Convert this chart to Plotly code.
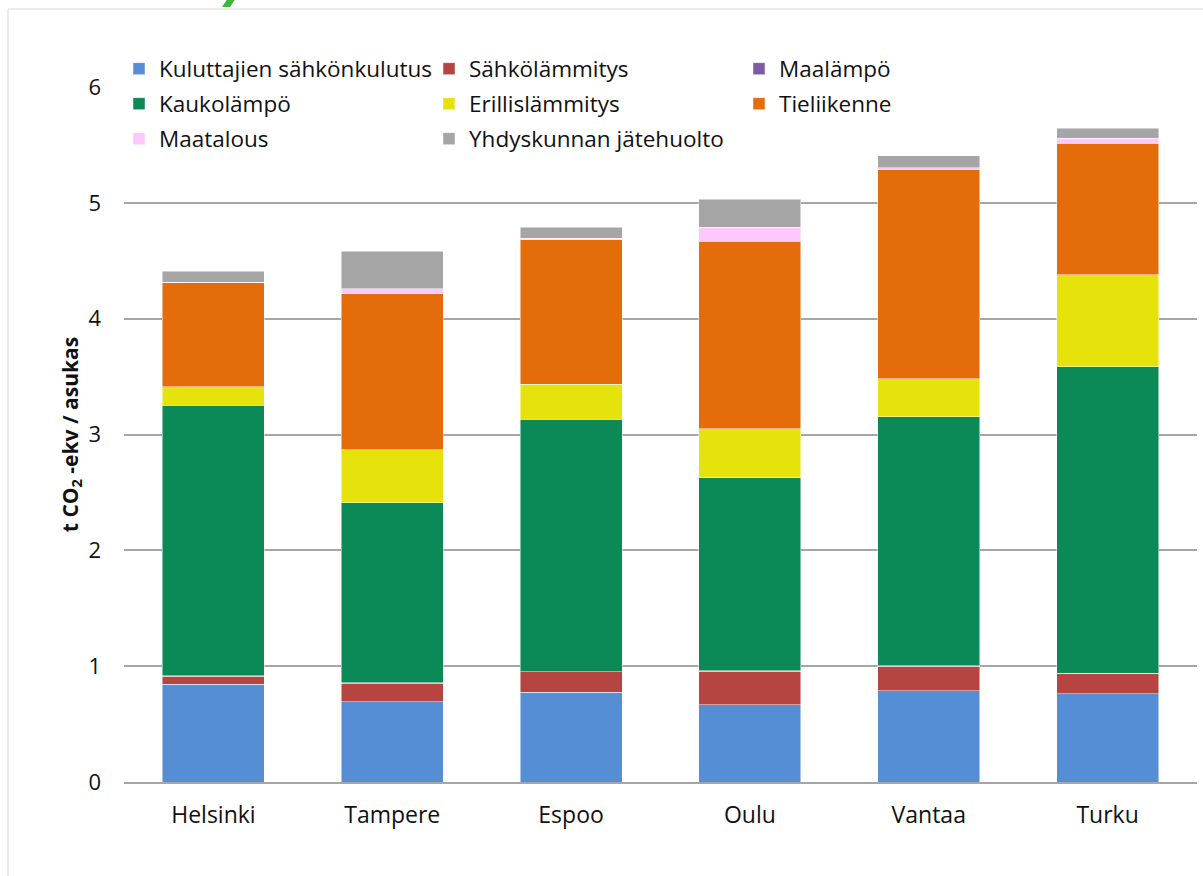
import plotly.graph_objects as go

cities = ["Helsinki", "Tampere", "Espoo", "Oulu", "Vantaa", "Turku"]

kuluttajien_sahkonkulutus = [0.846, 0.693, 0.777, 0.665, 0.786, 0.764]
sahkolammitys = [0.069, 0.159, 0.173, 0.293, 0.214, 0.171]
maalampo = [0.003, 0.003, 0.003, 0.003, 0.003, 0.003]
kaukolampo = [2.335, 1.555, 2.178, 1.667, 2.149, 2.646]
erillislammitys = [0.160, 0.457, 0.303, 0.420, 0.331, 0.795]
tieliikenne = [0.897, 1.347, 1.246, 1.621, 1.802, 1.134]
maatalous = [0.005, 0.043, 0.015, 0.121, 0.017, 0.044]
yhdyskunnan_jatehuolto = [0.095, 0.326, 0.095, 0.240, 0.104, 0.086]

series = [
    ("Kuluttajien sähkönkulutus", kuluttajien_sahkonkulutus, "#558ED5", "legend"),
    ("Sähkölämmitys", sahkolammitys, "#B64541", "legend"),
    ("Maalämpö", maalampo, "#7E5AA2", "legend"),
    ("Kaukolämpö", kaukolampo, "#0B8956", "legend2"),
    ("Erillislämmitys", erillislammitys, "#E6E20B", "legend2"),
    ("Tieliikenne", tieliikenne, "#E46C0A", "legend2"),
    ("Maatalous", maatalous, "#FDC8FB", "legend3"),
    ("Yhdyskunnan jätehuolto", yhdyskunnan_jatehuolto, "#A5A5A5", "legend3"),
]

W, H = 1203, 876
ML, MR, MT, MB = 124, 6, 87, 94
PW = W - ML - MR
PH = H - MT - MB


def px_x(x):
    return (x - ML) / PW


def px_y(y):
    return (H - MB - y) / PH


FONT = "Open Sans"
TXT = "#111111"

fig = go.Figure()
for name, vals, color, lg in series:
    fig.add_trace(go.Bar(
        x=cities, y=vals, name=name,
        marker=dict(color=color, line=dict(color="rgba(255,255,255,0.6)", width=0.8)),
        legend=lg,
    ))

legend_common = dict(
    orientation="h", xanchor="left", yanchor="middle",
    xref="container", yref="container",
    entrywidth=265, entrywidthmode="pixels",
    bgcolor="rgba(0,0,0,0)", itemwidth=30, traceorder="normal",
    font=dict(family=FONT, size=22.5, color=TXT),
    itemclick=False, itemdoubleclick=False,
)

LX = 119 / W

fig.update_layout(
    width=W, height=H,
    margin=dict(l=ML, r=MR, t=MT, b=MB, autoexpand=False),
    paper_bgcolor="white", plot_bgcolor="white",
    barmode="stack", bargap=0.43,
    font=dict(family=FONT, size=22, color=TXT),
    legend=dict(x=LX, y=1 - 69 / H, **legend_common),
    legend2=dict(x=LX, y=1 - 104 / H, **legend_common),
    legend3=dict(x=LX, y=1 - 139 / H, **legend_common),
    xaxis=dict(
        showgrid=False, showline=True, linecolor="#a6a6a6", linewidth=1.5,
        ticks="", tickfont=dict(family=FONT, size=23, color=TXT),
        ticklabelstandoff=12,
    ),
    yaxis=dict(
        range=[0, 6], dtick=1, showgrid=True, gridcolor="#a6a6a6", gridwidth=1.5,
        zeroline=False, showline=False, ticks="",
        tickfont=dict(family=FONT, size=22, color=TXT),
        ticklabelstandoff=22,
        title=dict(text="<b>t CO<sub>2</sub> -ekv / asukas</b>",
                   font=dict(family=FONT, size=21, color=TXT), standoff=4),
    ),
    shapes=[
        dict(type="rect", xref="paper", yref="paper",
             x0=px_x(8), x1=px_x(1215), y0=px_y(890), y1=px_y(9),
             line=dict(color="#d9d9d9", width=1), fillcolor="rgba(0,0,0,0)", layer="below"),
        dict(type="path", xref="paper", yref="paper",
             path=f"M {px_x(222)} {px_y(7)} L {px_x(230)} {px_y(7)} L {px_x(236)} {px_y(-2)} L {px_x(228)} {px_y(-2)} Z",
             line=dict(width=0), fillcolor="#3DB83A"),
    ],
)

fig.write_html(
    "out.html",
    config={"displayModeBar": False},
    post_script="document.body.style.margin='0';document.body.style.overflow='hidden';",
)
